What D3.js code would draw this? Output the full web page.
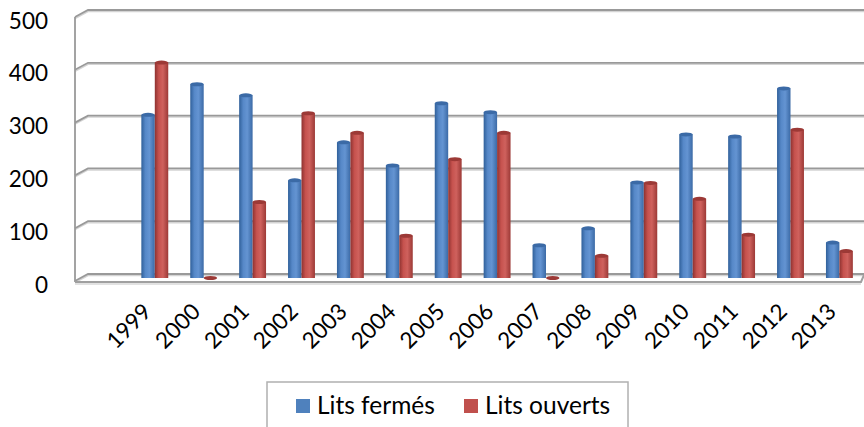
<!DOCTYPE html>
<html>
<head>
<meta charset="utf-8">
<script src="https://cdn.jsdelivr.net/npm/d3@7"></script>
<style>
  body { margin: 0; background: #fff; }
  svg { display: block; font-family: Lato, "Open Sans", sans-serif; }
</style>
</head>
<body>
<div id="chart"></div>
<script>
// data
var years = ["1999","2000","2001","2002","2003","2004","2005","2006","2007","2008","2009","2010","2011","2012","2013"];
var litsFermes  = [309, 367, 346, 185, 257, 213, 331, 314, 62, 94, 181, 272, 268, 359, 67];
var litsOuverts = [408, 0, 144, 312, 275, 80, 225, 275, 0, 42, 180, 150, 82, 281, 51];
var yTicks = [0, 100, 200, 300, 400, 500];
var seriesNames = ["Lits fermés", "Lits ouverts"];
var colors = ["#4f81bd", "#c0504d"];

var svgWidth = 864, svgHeight = 427;

var svg = d3.select("#chart")
    .append("svg")
    .attr("width", svgWidth)
    .attr("height", svgHeight);

var defs = svg.append("defs");
// cylinder-ish shading for each series
var shades = [["#30609a", "#5688c8", "#6494d2", "#3b6aa6"], ["#8e3230", "#c6524e", "#cf615d", "#9c3936"]];
shades.forEach(function(s, i) {
    var g = defs.append("linearGradient").attr("id", "grad" + i)
        .attr("x1", "0").attr("x2", "1").attr("y1", "0").attr("y2", "0");
    g.append("stop").attr("offset", "0%").attr("stop-color", s[0]);
    g.append("stop").attr("offset", "30%").attr("stop-color", s[1]);
    g.append("stop").attr("offset", "60%").attr("stop-color", s[2]);
    g.append("stop").attr("offset", "100%").attr("stop-color", s[3]);
});

// back wall scale and bar scale (bars sit a bit in front of the back wall)
var y = d3.scaleLinear().domain([0, 500]).range([274, 10]);
var yBar = d3.scaleLinear().domain([0, 500]).range([278, 14]);
var depth = 13, depthY = 7;
var wallLeft = 88, wallRight = 864;

var x = d3.scaleBand().domain(years).range([130.35, 863.85])
    .paddingInner(0.45).paddingOuter(0.225);
var xInner = d3.scaleBand().domain([0, 1]).range([0, x.bandwidth()]);

// gridlines on back + left wall
var grid = svg.append("g");
yTicks.forEach(function(t) {
    grid.append("path")
        .attr("d", "M" + (wallLeft - depth) + "," + (y(t) + depthY + 1.5) + "L" + wallLeft + "," + (y(t) + 1.5) + "L" + wallRight + "," + (y(t) + 1.5))
        .attr("fill", "none").attr("stroke", "#d4d4d4").attr("stroke-width", 1.5);
    grid.append("path")
        .attr("d", "M" + (wallLeft - depth) + "," + (y(t) + depthY) + "L" + wallLeft + "," + y(t) + "L" + wallRight + "," + y(t))
        .attr("fill", "none").attr("stroke", "#999").attr("stroke-width", 1.8);
});
// left wall front edge
grid.append("line")
    .attr("x1", wallLeft - depth).attr("x2", wallLeft - depth)
    .attr("y1", y(500) + depthY).attr("y2", y(0) + depthY + 1)
    .attr("stroke", "#999").attr("stroke-width", 1.8);
// floor front edge
grid.append("path")
    .attr("d", "M" + (wallLeft - depth) + "," + (y(0) + depthY + 1) + "L" + 861 + "," + (y(0) + depthY + 1) + "L" + 864 + "," + (y(0) + 1))
    .attr("fill", "none").attr("stroke", "#a0a0a0").attr("stroke-width", 2);
grid.append("line")
    .attr("x1", wallLeft - depth).attr("x2", 861)
    .attr("y1", y(0) + depthY + 3).attr("y2", y(0) + depthY + 3)
    .attr("stroke", "#d8d8d8").attr("stroke-width", 1.5);

// y labels
svg.append("g").selectAll("text")
    .data(yTicks).enter().append("text")
    .attr("x", 48)
    .attr("y", function(d) { return y(d) + 10; })
    .attr("text-anchor", "end")
    .attr("dominant-baseline", "central")
    .attr("font-size", 22.5)
    .attr("fill", "#000")
    .text(function(d) { return d; });

// bars
var seriesData = [litsFermes, litsOuverts];
var bars = svg.append("g");
seriesData.forEach(function(vals, si) {
    var g = bars.append("g");
    var w = xInner.bandwidth();
    g.selectAll("rect").data(vals).enter().append("rect")
        .attr("x", function(d, i) { return x(years[i]) + xInner(si); })
        .attr("y", function(d) { return yBar(d); })
        .attr("width", w)
        .attr("height", function(d) { return yBar(0) - yBar(d); })
        .attr("fill", "url(#grad" + si + ")");
    g.selectAll("ellipse").data(vals).enter().append("ellipse")
        .attr("cx", function(d, i) { return x(years[i]) + xInner(si) + w / 2; })
        .attr("cy", function(d) { return yBar(d); })
        .attr("rx", w / 2)
        .attr("ry", 2)
        .attr("fill", shades[si][3]);
});

// x labels
svg.append("g").selectAll("text")
    .data(years).enter().append("text")
    .attr("transform", function(d) {
        return "translate(" + (x(d) + x.bandwidth() / 2 - 2) + ",313) rotate(-45)";
    })
    .attr("text-anchor", "end")
    .attr("font-size", 22.5)
    .attr("fill", "#000")
    .text(function(d) { return d; });

// legend
var legend = svg.append("g");
legend.append("rect")
    .attr("x", 267).attr("y", 382).attr("width", 361).attr("height", 60)
    .attr("fill", "#fff").attr("stroke", "#b0b0b0").attr("stroke-width", 1.5);
var legendX = [296, 464];
seriesNames.forEach(function(name, i) {
    legend.append("rect")
        .attr("x", legendX[i]).attr("y", 399).attr("width", 14).attr("height", 14)
        .attr("fill", colors[i]);
    legend.append("text")
        .attr("x", legendX[i] + 21).attr("y", 413.5)
        .attr("font-size", 24.5)
        .attr("fill", "#000")
        .text(name);
});
</script>
</body>
</html>
